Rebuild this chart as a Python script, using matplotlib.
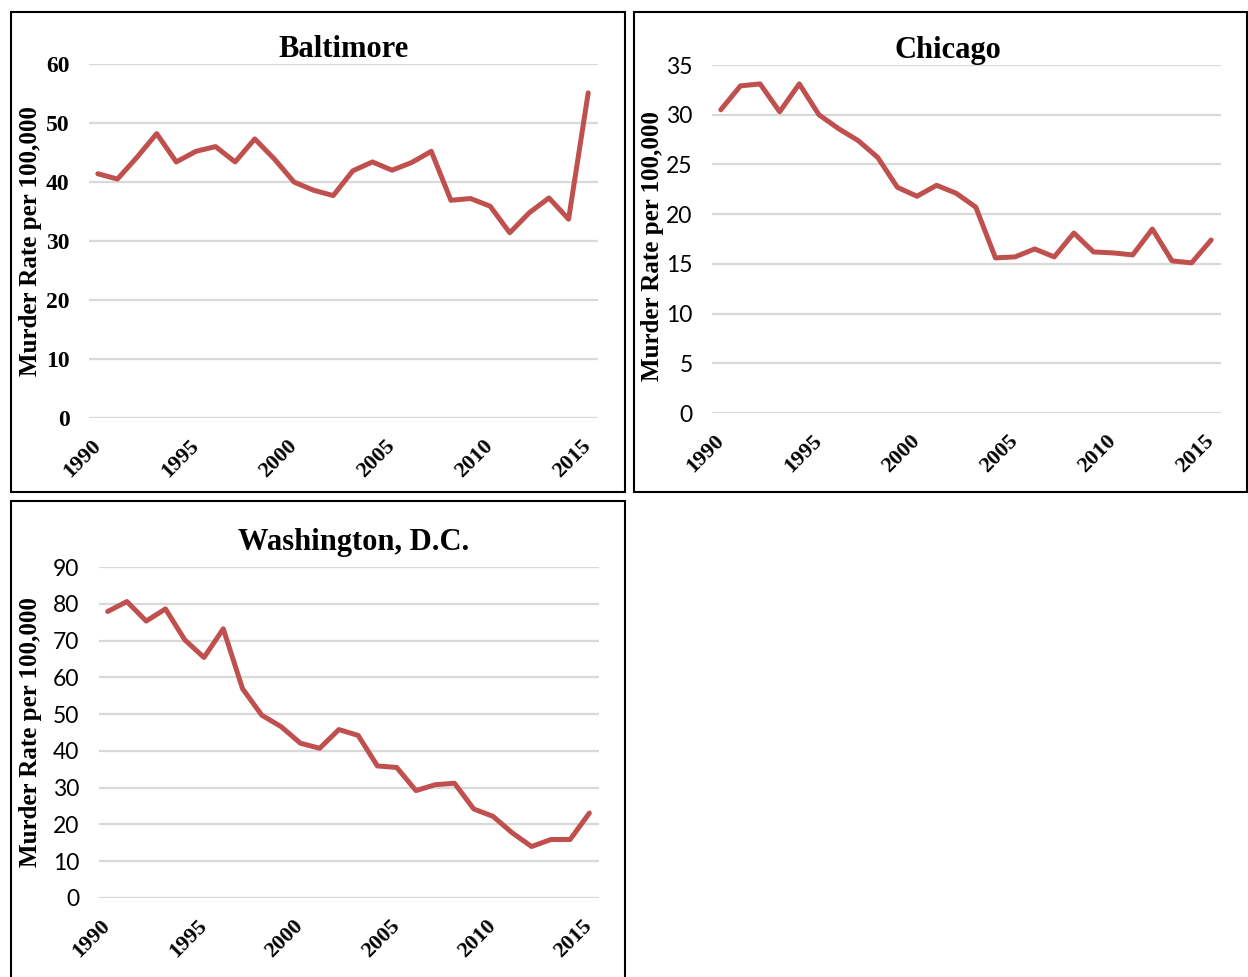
import numpy as np
import matplotlib
matplotlib.use("Agg")
import matplotlib.pyplot as plt
from matplotlib.patches import Rectangle

# murder rate per 100,000
years = list(range(1990, 2016))

baltimore = [41.4, 40.5, 44.2, 48.2, 43.4, 45.2, 46.0, 43.4, 47.3, 43.9,
             40.0, 38.6, 37.7, 41.9, 43.4, 42.0, 43.3, 45.2, 36.9, 37.2,
             35.9, 31.4, 34.8, 37.3, 33.7, 55.1]
chicago = [30.5, 32.9, 33.1, 30.3, 33.1, 30.0, 28.6, 27.4, 25.7, 22.7,
           21.8, 22.9, 22.1, 20.7, 15.6, 15.7, 16.5, 15.7, 18.1, 16.2,
           16.1, 15.9, 18.5, 15.3, 15.1, 17.4]
washington = [77.9, 80.6, 75.3, 78.6, 70.2, 65.4, 73.2, 56.9, 49.7, 46.6,
              42.1, 40.7, 45.8, 44.2, 35.9, 35.5, 29.2, 30.8, 31.2, 24.2,
              22.2, 17.7, 14.0, 15.9, 15.9, 23.1]

xticks = [1990, 1995, 2000, 2005, 2010, 2015]
ylabel = "Murder Rate per 100,000"

W, H = 1248, 977
serif = "Liberation Serif"
sans = "Lato"
red = "#C0504D"
grid = "#D9D9D9"

fig = plt.figure(figsize=(W / 100, H / 100), dpi=100)


def px_axes(left, top, right, bottom):
    # axes rectangle given in pixel coords of the final image
    return fig.add_axes([left / W, 1 - bottom / H, (right - left) / W, (bottom - top) / H])


def panel(ax, vals, ymax, ystep, title, title_x, title_pad, tick_font, ylab_x, ylab_y=0.5):
    ax.plot(years, vals, color=red, lw=3.6, solid_capstyle="round", solid_joinstyle="round", zorder=3)
    ax.set_xlim(1989.55, 2015.5)
    ax.set_ylim(0, ymax)
    yt = np.arange(0, ymax + 1, ystep)
    ax.set_yticks(yt)
    ax.set_yticklabels([str(v) for v in yt])
    ax.set_xticks(xticks)
    ax.set_xticklabels([str(v) for v in xticks])
    for s in ax.spines.values():
        s.set_visible(False)
    ax.grid(axis="y", color=grid, lw=1.6, zorder=0)
    ax.set_axisbelow(True)
    ax.tick_params(length=0)
    ax.tick_params(axis="y", pad=14)
    ax.tick_params(axis="x", pad=18)
    for lab in ax.get_yticklabels():
        if tick_font == serif:
            lab.set_fontfamily(serif)
            lab.set_fontweight("bold")
            lab.set_fontsize(17)
        else:
            lab.set_fontfamily(sans)
            lab.set_fontsize(16.5)
    for lab in ax.get_xticklabels():
        lab.set_fontfamily(serif)
        lab.set_fontweight("bold")
        lab.set_fontsize(16)
        lab.set_rotation(45)
        lab.set_rotation_mode("anchor")
        lab.set_ha("right")
        lab.set_va("center")
    ax.set_title(title, x=title_x, pad=title_pad, fontfamily=serif, fontweight="bold", fontsize=22)
    ax.set_ylabel(ylabel, fontfamily=serif, fontweight="bold", fontsize=18)
    ax.yaxis.set_label_coords(ylab_x, ylab_y)


ax1 = px_axes(89, 64, 598, 418)
panel(ax1, baltimore, 60, 10, "Baltimore", 0.5, 4, serif, -0.092)

ax2 = px_axes(712, 65, 1221, 413)
panel(ax2, chicago, 35, 5, "Chicago", 0.464, 3, sans, -0.094, 0.48)

ax3 = px_axes(99, 567, 599, 898)
panel(ax3, washington, 90, 10, "Washington, D.C.", 0.51, 12, sans, -0.114)

# black frames around each chart
boxes = [(11, 12, 625, 492), (634, 12, 1247, 492), (11, 501, 625, 990)]
for x0, y0, x1, y1 in boxes:
    fig.add_artist(Rectangle((x0 / W, 1 - y1 / H), (x1 - x0) / W, (y1 - y0) / H,
                             transform=fig.transFigure, fill=False, ec="black", lw=1.5))

fig.savefig("out.png", dpi=100)
